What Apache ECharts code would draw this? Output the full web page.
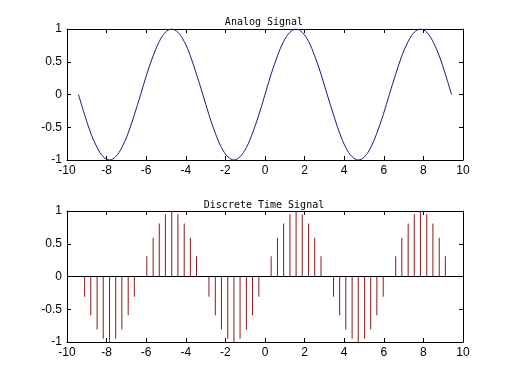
<!DOCTYPE html>
<html>
<head>
<meta charset="utf-8">
<script src="https://cdn.jsdelivr.net/npm/echarts@6/dist/echarts.min.js"></script>
<style>html,body{margin:0;padding:0;background:#fff;}#c{width:512px;height:384px;}</style>
</head>
<body>
<div id="c"></div>
<script>
// Sample times (n*pi/10)
var tX = [-9.42,-9.11,-8.80,-8.48,-8.17,-7.85,-7.54,-7.23,-6.91,-6.60,
  -6.28,-5.97,-5.65,-5.34,-5.03,-4.71,-4.40,-4.08,-3.77,-3.46,
  -3.14,-2.83,-2.51,-2.20,-1.88,-1.57,-1.26,-0.94,-0.63,-0.31,
  0,0.31,0.63,0.94,1.26,1.57,1.88,2.20,2.51,2.83,
  3.14,3.46,3.77,4.08,4.40,4.71,5.03,5.34,5.65,5.97,
  6.28,6.60,6.91,7.23,7.54,7.85,8.17,8.48,8.80,9.11,9.42];
// Analog signal values
var analogY = [0,-0.31,-0.59,-0.81,-0.95,-1,-0.95,-0.81,-0.59,-0.31,
  0,0.31,0.59,0.81,0.95,1,0.95,0.81,0.59,0.31,
  0,-0.31,-0.59,-0.81,-0.95,-1,-0.95,-0.81,-0.59,-0.31,
  0,0.31,0.59,0.81,0.95,1,0.95,0.81,0.59,0.31,
  0,-0.31,-0.59,-0.81,-0.95,-1,-0.95,-0.81,-0.59,-0.31,
  0,0.31,0.59,0.81,0.95,1,0.95,0.81,0.59,0.31,0];
// Discrete samples (stem heights)
var discreteY = [0,-0.31,-0.59,-0.81,-0.95,-1,-0.95,-0.81,-0.59,-0.31,
  0,0.31,0.59,0.81,0.95,1,0.95,0.81,0.59,0.31,
  0,-0.31,-0.59,-0.81,-0.95,-1,-0.95,-0.81,-0.59,-0.31,
  0,0.31,0.59,0.81,0.95,1,0.95,0.81,0.59,0.31,
  0,-0.31,-0.59,-0.81,-0.95,-1,-0.95,-0.81,-0.59,-0.31,
  0,0.31,0.59,0.81,0.95,1,0.95,0.81,0.59,0.31,0];
var titles = ['Analog Signal', 'Discrete Time Signal'];

var labelFont = {fontFamily: 'Liberation Sans', fontSize: 12, color: '#000'};
function xAx(gi, pos, show) {
  return {type: 'value', gridIndex: gi, position: pos, min: -10, max: 10, interval: 2,
    axisLine: {show: true, onZero: false, lineStyle: {color: '#000', width: 1}},
    axisTick: {show: true, inside: true, length: 4, lineStyle: {color: '#000'}},
    axisLabel: Object.assign({show: show, margin: 5}, labelFont),
    splitLine: {show: false}};
}
function yAx(gi, pos, show) {
  return {type: 'value', gridIndex: gi, position: pos, min: -1, max: 1, interval: 0.5,
    axisLine: {show: true, onZero: false, lineStyle: {color: '#000', width: 1}},
    axisTick: {show: true, inside: true, length: 4, lineStyle: {color: '#000'}},
    axisLabel: Object.assign({show: show, margin: 5}, labelFont),
    splitLine: {show: false}};
}
function pairs(xs, ys) { return xs.map(function (x, i) { return [x, ys[i]]; }); }

var chart = echarts.init(document.getElementById('c'), null, {renderer: 'canvas'});
chart.setOption({
  animation: false,
  backgroundColor: '#fff',
  title: [
    {text: titles[0], left: 259, top: 12, textAlign: 'center',
      textStyle: {fontFamily: 'DejaVu Sans Mono', fontSize: 10, fontWeight: 'normal', color: '#000'}},
    {text: titles[1], left: 259, top: 195, textAlign: 'center',
      textStyle: {fontFamily: 'DejaVu Sans Mono', fontSize: 10, fontWeight: 'normal', color: '#000'}}
  ],
  grid: [
    {left: 67, right: 49, top: 29, height: 131},
    {left: 67, right: 49, top: 211, height: 131}
  ],
  xAxis: [xAx(0, 'bottom', true), xAx(0, 'top', false), xAx(1, 'bottom', true), xAx(1, 'top', false)],
  yAxis: [yAx(0, 'left', true), yAx(0, 'right', false), yAx(1, 'left', true), yAx(1, 'right', false)],
  series: [
    {type: 'line', xAxisIndex: 0, yAxisIndex: 0, data: pairs(tX, analogY),
      smooth: 0.35, showSymbol: false, lineStyle: {color: '#1a1a80', width: 1}},
    {type: 'bar', xAxisIndex: 2, yAxisIndex: 2, data: pairs(tX, discreteY),
      barWidth: 1, itemStyle: {color: '#8c1a1a'},
      markLine: {silent: true, symbol: 'none', label: {show: false},
        lineStyle: {color: '#000', width: 1, type: 'solid'},
        data: [{yAxis: 0}]}}
  ]
});
</script>
</body>
</html>
